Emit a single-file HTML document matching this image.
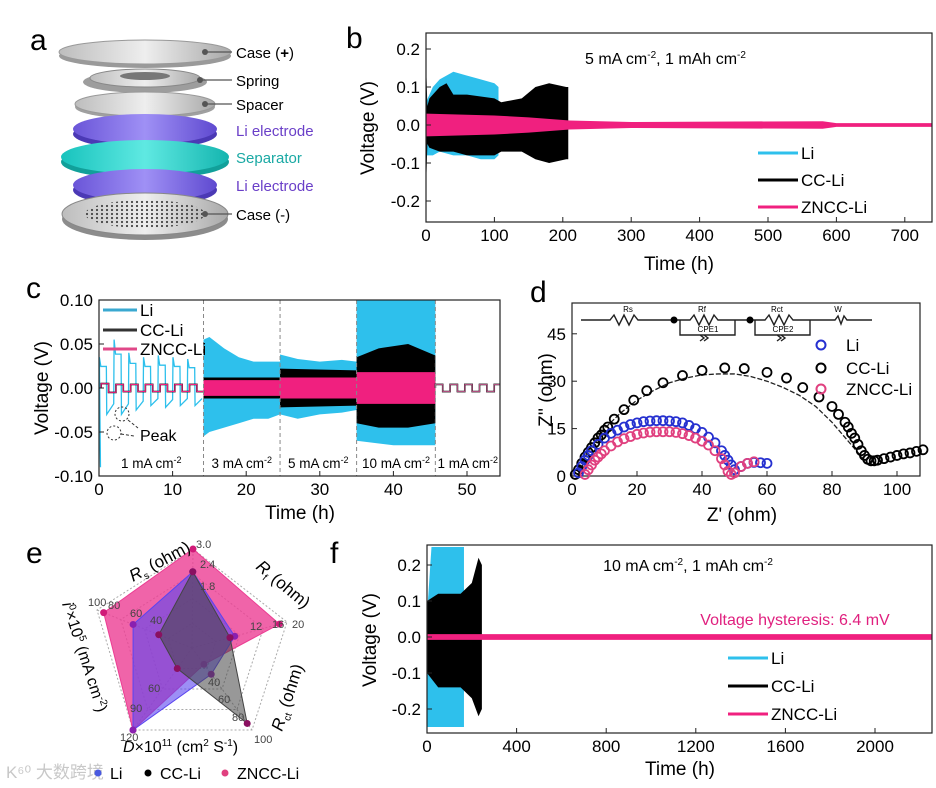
<!DOCTYPE html>
<html><head><meta charset="utf-8"><style>
html,body{margin:0;padding:0;background:#fff}
svg{display:block;font-family:"Liberation Sans","Noto Sans CJK SC",sans-serif}
</style></head><body>
<svg id="fig" width="936" height="788" viewBox="0 0 936 788" xmlns="http://www.w3.org/2000/svg">
<defs>
<linearGradient id="gCase" x1="0" x2="1"><stop offset="0" stop-color="#bdbdbd"/><stop offset=".5" stop-color="#eee"/><stop offset="1" stop-color="#a9a9a9"/></linearGradient>
<linearGradient id="gLi" x1="0" x2="1"><stop offset="0" stop-color="#6a55d8"/><stop offset=".5" stop-color="#9f90f5"/><stop offset="1" stop-color="#5f4ad0"/></linearGradient>
<linearGradient id="gSep" x1="0" x2="1"><stop offset="0" stop-color="#18c3bd"/><stop offset=".5" stop-color="#5fe9e2"/><stop offset="1" stop-color="#14b5af"/></linearGradient>
<pattern id="mesh" width="5" height="4" patternUnits="userSpaceOnUse"><circle cx="2" cy="2" r="1.1" fill="#444"/></pattern>
</defs>
<g id="panelA">
<text x="30" y="50" font-size="30">a</text>
<g><ellipse cx="145" cy="56" rx="86" ry="12" fill="#9a9a9a"/><ellipse cx="145" cy="52" rx="86" ry="12" fill="url(#gCase)" stroke="#999"/></g>
<g><ellipse cx="145" cy="82" rx="62" ry="11" fill="#9d9d9d"/><ellipse cx="145" cy="78" rx="55" ry="9" fill="url(#gCase)" stroke="#888"/><ellipse cx="145" cy="76" rx="25" ry="4" fill="#777"/></g>
<g><ellipse cx="145" cy="107" rx="70" ry="12" fill="#a0a0a0"/><ellipse cx="145" cy="104" rx="70" ry="12" fill="url(#gCase)" stroke="#999"/></g>
<g><ellipse cx="145" cy="134" rx="72" ry="15" fill="#4b39b5"/><ellipse cx="145" cy="129" rx="72" ry="15" fill="url(#gLi)"/></g>
<g><ellipse cx="145" cy="162" rx="84" ry="17" fill="#11a09a"/><ellipse cx="145" cy="157" rx="84" ry="17" fill="url(#gSep)"/></g>
<g><ellipse cx="145" cy="190" rx="72" ry="16" fill="#4b39b5"/><ellipse cx="145" cy="185" rx="72" ry="16" fill="url(#gLi)"/></g>
<g><ellipse cx="145" cy="219" rx="83" ry="21" fill="#8c8c8c"/><ellipse cx="145" cy="214" rx="83" ry="21" fill="url(#gCase)" stroke="#888"/><ellipse cx="145" cy="214" rx="60" ry="14" fill="url(#mesh)"/></g>
<g font-size="15">
<g stroke="#555" stroke-width="1.2"><line x1="205" y1="52" x2="232" y2="52"/><line x1="200" y1="80" x2="232" y2="80"/><line x1="205" y1="104" x2="232" y2="104"/><line x1="205" y1="214" x2="232" y2="214"/></g>
<g fill="#555"><circle cx="205" cy="52" r="3"/><circle cx="200" cy="80" r="3"/><circle cx="205" cy="104" r="3"/><circle cx="205" cy="214" r="3"/></g>
<text x="236" y="58">Case (<tspan font-weight="bold">+</tspan>)</text>
<text x="236" y="86">Spring</text>
<text x="236" y="110">Spacer</text>
<text x="236" y="136" fill="#6a3fc8">Li electrode</text>
<text x="236" y="163" fill="#1aa9a4">Separator</text>
<text x="236" y="191" fill="#6a3fc8">Li electrode</text>
<text x="236" y="220">Case (-)</text>
</g>
</g>
<text x="346" y="48" font-size="30">b</text>
<text x="26" y="298" font-size="30">c</text>
<text x="530" y="302" font-size="30">d</text>
<text x="26" y="563" font-size="30">e</text>
<text x="330" y="563" font-size="30">f</text>
<text x="6" y="778" font-size="17" fill="#c8c8c8">K⁶⁰ 大数跨境</text>
</svg>
<script>
// ---------- Panel b data ----------
const bXTicks=[0,100,200,300,400,500,600,700];
const bYTicks=[-0.2,-0.1,0.0,0.1,0.2];
const bLiT=[0,10,20,40,60,80,100,106];
const bLiUp=[0.06,0.10,0.12,0.14,0.13,0.12,0.11,0.10];
const bLiLo=[-0.08,-0.08,-0.07,-0.08,-0.08,-0.09,-0.09,-0.08];
const bCcT=[0,2,5,20,30,40,60,100,110,140,160,180,205,208];
const bCcUp=[0.17,0.05,0.07,0.10,0.11,0.08,0.08,0.07,0.06,0.07,0.10,0.11,0.10,0.10];
const bCcLo=[-0.17,-0.05,-0.06,-0.07,-0.07,-0.07,-0.08,-0.08,-0.07,-0.07,-0.09,-0.10,-0.09,-0.09];
const bZnT=[0,100,150,210,300,580,600,750];
const bZnUp=[0.03,0.025,0.02,0.012,0.008,0.01,0.005,0.005];
const bZnLo=[-0.03,-0.025,-0.02,-0.012,-0.008,-0.01,-0.005,-0.005];
// ---------- Panel c data ----------
const cXTicks=[0,10,20,30,40,50];
const cYTicks=[-0.10,-0.05,0.00,0.05,0.10];
const cRateBounds=[14.2,24.6,35,45.7];
const cRateLabels=["1 mA cm","3 mA cm","5 mA cm","10 mA cm","1 mA cm"];
const cLiTop1=[0.035,0.055,0.040,0.035,0.037,0.035,0.033];
const cLiBot1=[-0.09,-0.03,-0.025,-0.02,-0.022,-0.02,-0.02];
const cSqAmp=[0.005,0.004,0.004,0.004,0.004,0.004,0.004];
const cSqAmpEnd=[0.004,0.004,0.004,0.004,0.004];
const cLiT=[14.2,15,17,19,21,23,24.6,24.6,27,30,33,35,35,40,45.7];
const cLiUp=[0.055,0.058,0.045,0.035,0.03,0.03,0.03,0.038,0.033,0.03,0.032,0.03,0.1,0.1,0.1];
const cLiLo=[-0.055,-0.05,-0.045,-0.04,-0.035,-0.035,-0.03,-0.03,-0.035,-0.03,-0.028,-0.025,-0.06,-0.065,-0.065];
const cCcT=[14.2,24.6,24.6,35,35,38,42,45.7];
const cCcUp=[0.012,0.012,0.022,0.02,0.035,0.045,0.05,0.037];
const cCcLo=[-0.012,-0.012,-0.022,-0.02,-0.04,-0.045,-0.045,-0.04];
const cZnT=[14.2,24.6,24.6,35,35,45.7];
const cZnUp=[0.009,0.009,0.012,0.012,0.018,0.018];
const cZnLo=[-0.009,-0.009,-0.012,-0.012,-0.018,-0.018];
// ---------- Panel d data ----------
const dXTicks=[0,20,40,60,80,100];
const dYTicks=[0,15,30,45];
const dLiX=[2,3,4,5,6,8,10,12,14,16,18,20,22,24,26,28,30,32,34,36,38,40,42,44,46,47,48,49,50,52,54,56,58,60];
const dLiY=[1,3,5,6.5,8,10,12,13.5,14.5,15.5,16.3,16.8,17.2,17.4,17.5,17.5,17.4,17.2,16.8,16,15,13.8,12.3,10.5,8,6.5,5,3.5,2,3,4,4.3,4.2,4];
const dZnX=[4,5,6,7,8,9,10,12,14,16,18,20,22,24,26,28,30,32,34,36,38,40,42,44,46,47,48,49,50,52,54,56];
const dZnY=[0.5,2,3.5,5,6,7,8,9.5,10.8,11.8,12.5,13.2,13.6,13.9,14,14,14,13.8,13.4,12.8,12,11,9.8,8,5.5,3.5,1.5,0.5,1,3,4,4.5];
const dCcX=[1,2,3,4,5,6,7,8,9,10,11,13,16,19,23,28,34,40,47,53,60,66,71,76,80,82,84,85,86,87,88,89,90,91,92,93,94,96,98,100,102,104,106,108];
const dCcY=[0.5,2,4,6,7.5,9,10.5,12,13,14.5,15.5,18,21,24,27,29.5,31.8,33.4,34.2,34,32.8,31,28,25,22,19.5,17,15.5,13.5,12,10,8,6.5,5.3,4.8,4.8,5,5.5,6,6.5,7,7.3,7.8,8.3];
const dFitX=[2,5,10,15,20,25,30,35,40,45,50,55,60,65,70,75,80,85,90];
const dFitY=[0,8,15,20,24,27,29.5,31,32,32.3,32.3,31.5,30,28,25.5,22,17,11,5];
// ---------- Panel e data (fraction of axis max) ----------
const eAxes=["Rs","Rf","Rct","D","i0"];
const eZncc=[1.0,0.92,0.2,1.0,0.93];
const eLi=[0.77,0.45,0.32,1.0,0.62];
const eCc=[0.77,0.4,0.92,0.25,0.35];
// ---------- Panel f data ----------
const fXTicks=[0,400,800,1200,1600,2000];
const fYTicks=[-0.2,-0.1,0.0,0.1,0.2];
const fLiT=[0,20,60,100,140,165];
const fLiUp=[0.06,0.25,0.25,0.25,0.25,0.25];
const fLiLo=[-0.25,-0.25,-0.25,-0.25,-0.25,-0.25];
const fCcT=[0,50,100,150,200,230,245];
const fCcUp=[0.1,0.12,0.12,0.12,0.15,0.22,0.2];
const fCcLo=[-0.1,-0.14,-0.14,-0.14,-0.17,-0.22,-0.2];
const fZnT=[0,2300];
const fZnUp=[0.008,0.008];
const fZnLo=[-0.008,-0.008];

const NS="http://www.w3.org/2000/svg";
const fig=document.getElementById('fig');
function mk(tag,attrs,parent){const e=document.createElementNS(NS,tag);for(const k in attrs)e.setAttribute(k,attrs[k]);(parent||fig).appendChild(e);return e;}
const LI="#2ec0ec",CC="#000",ZN="#f0207f";

function axes(g,fr,xs,ys,xt,yt,xfmt,yfmt,name){
  let el=mk('rect',{x:fr.l,y:fr.t,width:fr.r-fr.l,height:fr.b-fr.t,fill:'none',stroke:'#222','stroke-width':1.2},g);
  
  
  xt.forEach(v=>{const x=xs(v);
    mk('line',{x1:x,y1:fr.b,x2:x,y2:fr.b-5,stroke:'#222'},g);
    const t=mk('text',{x:x,y:fr.b+19,'text-anchor':'middle','font-size':17},g);t.textContent=xfmt(v);
    
    });
  yt.forEach(v=>{const y=ys(v);
    mk('line',{x1:fr.l,y1:y,x2:fr.l+5,y2:y,stroke:'#222'},g);
    const t=mk('text',{x:fr.l-6,y:y+6,'text-anchor':'end','font-size':17},g);t.textContent=yfmt(v);
    
    });
}
function band(g,T,U,L,xs,ys,color,name){
  let d='M'+T.map((t,i)=>xs(t)+','+ys(U[i])).join('L');
  for(let i=T.length-1;i>=0;i--)d+='L'+xs(T[i])+','+ys(L[i]);
  const p=mk('path',{d:d+'Z',fill:color},g);
  
  
  return p;
}
function txt(g,x,y,s,size,attrs){const t=mk('text',Object.assign({x:x,y:y,'font-size':size},attrs||{}),g);t.textContent=s;return t;}
function legendLine(g,x1,x2,y,color,label,name){
  const l=mk('line',{x1:x1,y1:y,x2:x2,y2:y,stroke:color,'stroke-width':3},g);
  
  
  const t=txt(g,x2+3,y+6,label,17);
  
  
}

// ===== Panel b =====
(function(){
  const g=mk('g',{});
  
  
  const fr={l:426,r:932,t:33,b:222};
  const xs=t=>fr.l+t*0.684, ys=v=>125-v*380;
  const cp=mk('clipPath',{id:'cb'},g);mk('rect',{x:fr.l,y:fr.t,width:fr.r-fr.l,height:fr.b-fr.t},cp);
  const pg=mk('g',{'clip-path':'url(#cb)'},g);
  band(pg,bLiT,bLiUp,bLiLo,xs,ys,LI,'series-li');
  band(pg,bCcT,bCcUp,bCcLo,xs,ys,CC,'series-cc-li');
  band(pg,bZnT,bZnUp,bZnLo,xs,ys,ZN,'series-zncc-li');
  axes(g,fr,xs,ys,bXTicks,bYTicks,v=>v,v=>v.toFixed(1),'panel-b');
  let t=txt(g,585,64,'',16);t.innerHTML='5 mA cm<tspan dy="-6" font-size="10">-2</tspan><tspan dy="6">, 1 mAh cm</tspan><tspan dy="-6" font-size="10">-2</tspan>';
  
  
  t=txt(g,679,270,'Time (h)',19,{'text-anchor':'middle'});
  
  
  t=txt(g,0,0,'Voltage (V)',19,{'text-anchor':'middle',transform:'translate(374,128) rotate(-90)'});
  
  
  legendLine(g,758,798,153,LI,'Li','panel-b-legend-li');
  legendLine(g,758,798,180,CC,'CC-Li','panel-b-legend-cc-li');
  legendLine(g,758,798,207,ZN,'ZNCC-Li','panel-b-legend-zncc-li');
})();

// ===== Panel c =====
(function(){
  const g=mk('g',{});
  
  
  const fr={l:99,r:500,t:300,b:476};
  const xs=t=>fr.l+t*7.36, ys=v=>388-v*880;
  const cp=mk('clipPath',{id:'cc'},g);mk('rect',{x:fr.l,y:fr.t,width:fr.r-fr.l,height:fr.b-fr.t},cp);
  const pg=mk('g',{'clip-path':'url(#cc)'},g);
  let d='M'+xs(0)+','+ys(0)+'L'+xs(0.2)+','+ys(cLiBot1[0]);
  cLiTop1.forEach((top,k)=>{const t0=2*k;
    d+='L'+xs(t0+0.05)+','+ys(top)+'L'+xs(t0+0.25)+','+ys(top*0.7)+'L'+xs(t0+1)+','+ys(top*0.7);
    const bot=k===0?-0.03:cLiBot1[k];
    d+='L'+xs(t0+1.05)+','+ys(bot)+'L'+xs(t0+2)+','+ys(bot*0.6);});
  let p=mk('path',{d:d,fill:'none',stroke:LI,'stroke-width':1.3},pg);
  
  
  band(pg,cLiT,cLiUp,cLiLo,xs,ys,LI,'series-li-high-rate');
  band(pg,cCcT,cCcUp,cCcLo,xs,ys,CC,'series-cc-li-high-rate');
  band(pg,cZnT,cZnUp,cZnLo,xs,ys,ZN,'series-zncc-li-high-rate');
  function sq(start,amps,color,w,name){let s='M'+xs(start)+','+ys(0);
    amps.forEach((a,k)=>{const t0=start+2*k;s+='L'+xs(t0)+','+ys(a)+'L'+xs(t0+1)+','+ys(a)+'L'+xs(t0+1)+','+ys(-a)+'L'+xs(t0+2)+','+ys(-a);});
    const q=mk('path',{d:s,fill:'none',stroke:color,'stroke-width':w},pg);
    
    }
  sq(0.3,cSqAmp,CC,1.6,'series-cc-li-1ma');sq(0.3,cSqAmp,ZN,1,'series-zncc-li-1ma');
  sq(45.7,cSqAmpEnd,CC,1.6,'series-cc-li-1ma-end');sq(45.7,cSqAmpEnd,'#b05080',1,'series-zncc-li-1ma-end');
  cRateBounds.forEach(b=>{const l=mk('line',{x1:xs(b),y1:fr.t,x2:xs(b),y2:fr.b,stroke:'#888','stroke-dasharray':'4,3'},g);
    
    });
  const edges=[0].concat(cRateBounds,[54.5]);
  cRateLabels.forEach((s,i)=>{const cx=(xs(edges[i])+xs(edges[i+1]))/2;
    const t=txt(g,cx,468,'',13.5,{'text-anchor':'middle'});t.innerHTML=s+'<tspan dy="-5" font-size="9">-2</tspan>';
    
    });
  axes(g,fr,xs,ys,cXTicks,cYTicks,v=>v,v=>v.toFixed(2),'panel-c');
  mk('circle',{cx:122,cy:414,r:7,fill:'none',stroke:'#333','stroke-dasharray':'2,2'},g);
  mk('circle',{cx:114,cy:433,r:7,fill:'none',stroke:'#333','stroke-dasharray':'2,2'},g);
  mk('path',{d:'M128,420 L138,428 M121,434 L134,436',stroke:'#333','stroke-dasharray':'3,2',fill:'none'},g);
  let t=txt(g,140,441,'Peak',16);
  
  
  legendLine(g,103,137,310,'#3aa8d0','Li','panel-c-legend-li');
  legendLine(g,103,137,330,'#333','CC-Li','panel-c-legend-cc-li');
  legendLine(g,103,137,349,'#e04888','ZNCC-Li','panel-c-legend-zncc-li');
  t=txt(g,300,519,'Time (h)',19,{'text-anchor':'middle'});
  
  
  t=txt(g,0,0,'Voltage (V)',19,{'text-anchor':'middle',transform:'translate(48,388) rotate(-90)'});
  
  
})();

// ===== Panel d =====
(function(){
  const g=mk('g',{});
  
  
  const fr={l:572,r:920,t:303,b:476};
  const xs=z=>fr.l+z*3.25, ys=z=>476-z*3.16;
  axes(g,fr,xs,ys,dXTicks,dYTicks,v=>v,v=>v,'panel-d');
  let f=mk('polyline',{points:dFitX.map((x,i)=>xs(x)+','+ys(dFitY[i])).join(' '),fill:'none',stroke:'#222','stroke-width':1.3,'stroke-dasharray':'5,2'},g);
  
  
  function pts(X,Y,color,name){X.forEach((x,i)=>{const c=mk('circle',{cx:xs(x),cy:ys(Y[i]),r:4.5,fill:'none',stroke:color,'stroke-width':1.8},g);
    
    });}
  pts(dCcX,dCcY,'#000','point-cc-li');
  pts(dLiX,dLiY,'#2530d0','point-li');
  pts(dZnX,dZnY,'#e0407f','point-zncc-li');
  const c=mk('g',{stroke:'#222','stroke-width':1.4,fill:'none'},g);
  
  
  mk('path',{d:'M581,320 H610 l4,-5 l5,10 l5,-10 l5,10 l5,-10 l4,5 H680 M680,320 H690 l4,-5 l5,10 l5,-10 l5,10 l5,-10 l4,5 H735 V335 H680 V320 M680,335 H700 l4,3 l-4,3 M704,335 l4,3 l-4,3 M755,320 H765 l4,-5 l5,10 l5,-10 l5,10 l5,-10 l4,5 H810 V335 H755 V320 M755,335 H777 l4,3 l-4,3 M781,335 l4,3 l-4,3 M810,320 H835 l3,-4 l3,8 l3,-8 l3,4 H872 M735,320 H755'},c);
  mk('circle',{cx:674,cy:320,r:3.5,fill:'#000'},g);mk('circle',{cx:750,cy:320,r:3.5,fill:'#000'},g);
  [['Rs',628],['Rf',702],['Rct',777],['W',838]].forEach(a=>txt(g,a[1],312,a[0],8,{'text-anchor':'middle'}));
  [['CPE1',708],['CPE2',783]].forEach(a=>txt(g,a[1],332,a[0],8,{'text-anchor':'middle'}));
  [['Li','#2530d0',345],['CC-Li','#000',368],['ZNCC-Li','#e0407f',389]].forEach(a=>{
    const cc=mk('circle',{cx:821,cy:a[2],r:4.5,fill:'none',stroke:a[1],'stroke-width':2},g);
    
    
    const t=txt(g,846,a[2]+6,a[0],17);
    
    });
  let t=txt(g,742,521,"Z' (ohm)",19,{'text-anchor':'middle'});
  
  
  t=txt(g,0,0,"Z'' (ohm)",19,{'text-anchor':'middle',transform:'translate(552,390) rotate(-90)'});
  
  
})();

// ===== Panel e (radar) =====
(function(){
  const g=mk('g',{});
  
  
  const V=[[193,549],[287,622],[252,730],[133,730],[97,610]], C=[192,648];
  const pt=(i,f)=>[C[0]+(V[i][0]-C[0])*f,C[1]+(V[i][1]-C[1])*f];
  [0.25,0.5,0.75,1].forEach(f=>mk('polygon',{points:V.map((v,i)=>pt(i,f).join(',')).join(' '),fill:'none',stroke:'#aaa','stroke-dasharray':'2,2'},g));
  V.forEach((v,i)=>mk('line',{x1:C[0],y1:C[1],x2:v[0],y2:v[1],stroke:'#aaa','stroke-dasharray':'2,2'},g));
  function poly(vals,color,op,name,dot){
    const p=mk('polygon',{points:vals.map((f,i)=>pt(i,f).join(',')).join(' '),fill:color,'fill-opacity':op,stroke:color,'stroke-width':1},g);
    
    
    vals.forEach((f,i)=>{const q=pt(i,f);mk('circle',{cx:q[0],cy:q[1],r:3.5,fill:dot},g);});}
  poly(eZncc,'#ec3d93',0.8,'radar-zncc-li','#d01a78');
  poly(eLi,'#5a44f0',0.6,'radar-li','#8a20b0');
  poly(eCc,'#444',0.55,'radar-cc-li','#8a1060');
  const lab=[['3.0',196,548],['2.4',200,568],['1.8',200,590],['20',292,628],['16',272,628],['12',250,630],['100',254,743],['80',232,721],['60',218,703],['40',208,686],['120',120,741],['90',130,712],['60',148,692],['100',88,606],['80',108,609],['60',130,617],['40',150,624]];
  lab.forEach(a=>{const t=txt(g,a[1],a[2],a[0],11,{fill:'#444'});
    
    });
  let t=txt(g,0,0,'',17,{transform:'translate(133,582) rotate(-28)'});t.innerHTML='<tspan font-style="italic">R</tspan><tspan font-size="10" dy="4">s</tspan><tspan dy="-4"> (ohm)</tspan>';
  
  
  t=txt(g,0,0,'',17,{transform:'translate(255,568) rotate(40)'});t.innerHTML='<tspan font-style="italic">R</tspan><tspan font-size="10" dy="4">f</tspan><tspan dy="-4"> (ohm)</tspan>';
  
  
  t=txt(g,0,0,'',17,{transform:'translate(282,732) rotate(-72)'});t.innerHTML='<tspan font-style="italic">R</tspan><tspan font-size="10" dy="4">ct</tspan><tspan dy="-4"> (ohm)</tspan>';
  
  
  t=txt(g,123,752,'',16);t.innerHTML='<tspan font-style="italic">D</tspan>×10<tspan font-size="10" dy="-6">11</tspan><tspan dy="6"> (cm</tspan><tspan font-size="10" dy="-6">2</tspan><tspan dy="6"> S</tspan><tspan font-size="10" dy="-6">-1</tspan><tspan dy="6">)</tspan>';
  
  
  t=txt(g,0,0,'',16,{transform:'translate(62,604) rotate(72)'});t.innerHTML='<tspan font-style="italic">i</tspan><tspan font-size="10" dy="-6">0</tspan><tspan dy="6">×10</tspan><tspan font-size="10" dy="-6">5</tspan><tspan dy="6"> (mA cm</tspan><tspan font-size="10" dy="-6">-2</tspan><tspan dy="6">)</tspan>';
  
  
  [['Li','#4a5ae0',98],['CC-Li','#000',148],['ZNCC-Li','#e0407f',225]].forEach(a=>{
    mk('circle',{cx:a[2],cy:773,r:3.5,fill:a[1]},g);
    const q=txt(g,a[2]+12,779,a[0],16);
    
    });
})();

// ===== Panel f =====
(function(){
  const g=mk('g',{});
  
  
  const fr={l:427,r:932,t:545,b:733};
  const xs=t=>fr.l+t*0.224, ys=v=>637-v*360;
  const cp=mk('clipPath',{id:'cf'},g);mk('rect',{x:fr.l,y:fr.t,width:fr.r-fr.l,height:fr.b-fr.t},cp);
  const pg=mk('g',{'clip-path':'url(#cf)'},g);
  band(pg,fLiT,fLiUp,fLiLo,xs,ys,LI,'series-li');
  band(pg,fCcT,fCcUp,fCcLo,xs,ys,CC,'series-cc-li');
  band(pg,fZnT,fZnUp,fZnLo,xs,ys,ZN,'series-zncc-li');
  axes(g,fr,xs,ys,fXTicks,fYTicks,v=>v,v=>v.toFixed(1),'panel-f');
  let t=txt(g,688,571,'',16,{'text-anchor':'middle'});t.innerHTML='10 mA cm<tspan dy="-6" font-size="10">-2</tspan><tspan dy="6">, 1 mAh cm</tspan><tspan dy="-6" font-size="10">-2</tspan>';
  
  
  t=txt(g,795,625,'Voltage hysteresis: 6.4 mV',16,{'text-anchor':'middle',fill:'#e0207f'});
  
  
  legendLine(g,728,768,658,LI,'Li','panel-f-legend-li');
  legendLine(g,728,768,686,CC,'CC-Li','panel-f-legend-cc-li');
  legendLine(g,728,768,714,ZN,'ZNCC-Li','panel-f-legend-zncc-li');
  t=txt(g,680,775,'Time (h)',19,{'text-anchor':'middle'});
  
  
  t=txt(g,0,0,'Voltage (V)',19,{'text-anchor':'middle',transform:'translate(376,640) rotate(-90)'});
  
  
})();
</script>
</body></html>
